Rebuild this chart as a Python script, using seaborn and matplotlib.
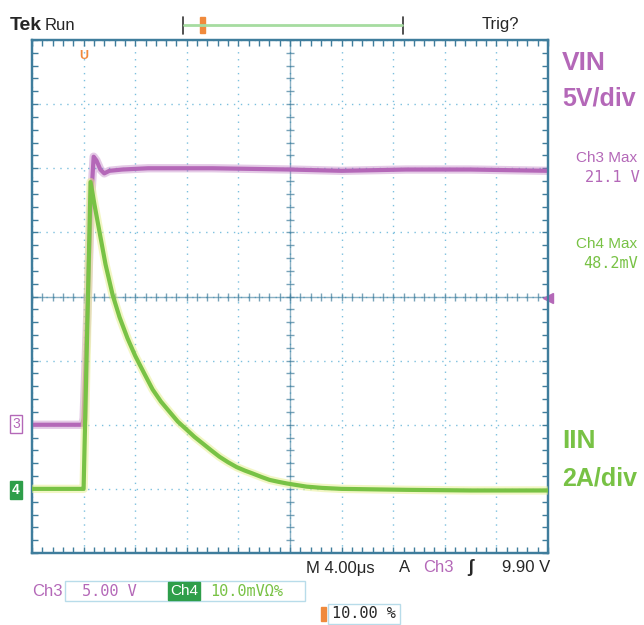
import matplotlib
matplotlib.use("Agg")
import matplotlib.pyplot as plt
import numpy as np
import pandas as pd
import seaborn as sns
from matplotlib.lines import Line2D
from matplotlib.patches import Rectangle

# trace readings (time in us, trigger at 0)
t_vin = [-4.0, -0.1, 0.0, 0.3, 0.55, 0.78, 1.0, 1.3, 1.6, 2.0, 3.0, 5.0, 10.0, 16.0, 20.0, 25.0, 30.0, 36.0]
vin = [0.0, 0.0, 0.5, 9.0, 17.0, 20.9, 20.6, 19.9, 19.6, 19.8, 19.9, 20.0, 20.0, 19.9, 19.8, 19.9, 19.9, 19.8]

t_iin = [-4.0, -0.1, 0.0, 0.54, 0.85, 1.24, 1.7, 2.25, 2.79, 3.4, 4.0, 4.7, 5.35, 6.0, 6.67,
         7.3, 7.98, 8.6, 9.22, 9.9, 10.54, 11.2, 11.86, 12.5, 13.1, 13.8, 14.42, 15.1,
         15.74, 16.5, 17.29, 18.5, 20.0, 25.0, 30.0, 36.0]
iin = [0.0, 0.0, 0.0, 9.57, 8.85, 8.0, 7.0, 6.05, 5.35, 4.7, 4.15, 3.6, 3.1, 2.72, 2.4,
       2.1, 1.85, 1.62, 1.42, 1.2, 1.0, 0.83, 0.68, 0.57, 0.48, 0.37, 0.28, 0.22,
       0.17, 0.12, 0.07, 0.03, 0.0, -0.03, -0.05, -0.05]

TRIG_LEVEL = 9.90
PURPLE = "#b468b8"
GREEN = "#78c245"
GRID = "#7cc0de"
FRAME = "#3f7d9c"
ORANGE = "#f08a3c"

W, H = 644, 625


def fx(x):
    return x / W


def fy(y):
    return 1 - y / H


sns.set_style("white")
plt.rcParams["font.family"] = ["Liberation Sans", "DejaVu Sans"]

fig = plt.figure(figsize=(W / 100, H / 100), dpi=100)
ax = fig.add_axes([fx(32), fy(553), 516 / W, 513 / H])
ax2 = ax.twinx()

# graticule
ax.set_xlim(-4, 36)
ax.set_ylim(-10, 30)
ax2.set_ylim(-2, 14)
for gx in np.arange(-4, 37, 4):
    ax.axvline(gx, color=GRID, lw=1.0, ls=(0, (1, 4)), zorder=0)
for gy in np.arange(-10, 31, 5):
    ax.axhline(gy, color=GRID, lw=1.0, ls=(0, (1, 4)), zorder=0)
ax.axvline(16, color=FRAME, lw=1.0, alpha=0.6, zorder=0)
ax.axhline(10, color=FRAME, lw=1.0, alpha=0.6, zorder=0)
mx = np.arange(-4, 36.1, 0.8)
my = np.arange(-10, 30.1, 1.0)
ax.plot(mx, np.full_like(mx, 10), ls="none", marker="|", ms=6, color=FRAME, alpha=0.7, zorder=0)
ax.plot(np.full_like(my, 16), my, ls="none", marker="_", ms=6, color=FRAME, alpha=0.7, zorder=0)

ax.set_xticks([])
ax.set_yticks([])
ax2.set_yticks([])
ax.set_xticks(mx, minor=True)
ax.set_yticks(my, minor=True)
ax.tick_params(which="minor", direction="in", length=4, width=1, color=FRAME,
               top=True, bottom=True, left=True, right=True,
               labelbottom=False, labelleft=False)
for a in (ax, ax2):
    for s in a.spines.values():
        s.set_color(FRAME)
        s.set_linewidth(1.6)

# traces
df_v = pd.DataFrame({"t": t_vin, "v": vin})
df_i = pd.DataFrame({"t": t_iin, "i": iin})
sns.lineplot(data=df_v, x="t", y="v", ax=ax, color=PURPLE, lw=6, alpha=0.35, zorder=3)
sns.lineplot(data=df_v, x="t", y="v", ax=ax, color=PURPLE, lw=3, zorder=4)
sns.lineplot(data=df_i, x="t", y="i", ax=ax2, color="#e6ef8a", lw=6, alpha=0.5, zorder=3)
sns.lineplot(data=df_i, x="t", y="i", ax=ax2, color=GREEN, lw=3, zorder=4)
ax.set_xlabel("")
ax.set_ylabel("")
ax2.set_ylabel("")
ax.plot([36], [TRIG_LEVEL], marker="<", ms=7, color=PURPLE, clip_on=False, zorder=5)

# header
fig.text(fx(10), fy(25), "Tek", fontsize=14, fontweight="bold", va="center")
fig.text(fx(45), fy(25), "Run", fontsize=12, va="center")
fig.text(fx(482), fy(25), "Trig?", fontsize=12, va="center")
fig.add_artist(Line2D([fx(183), fx(183)], [fy(17), fy(34)], color="#333333", lw=1.2))
fig.add_artist(Line2D([fx(403), fx(403)], [fy(17), fy(34)], color="#333333", lw=1.2))
fig.add_artist(Line2D([fx(184), fx(402)], [fy(25), fy(25)], color="#a6dca0", lw=2))
fig.add_artist(Rectangle((fx(200), fy(33)), 5 / W, 16 / H, color=ORANGE))
fig.text(fx(84), fy(56), "U", fontsize=9, fontweight="bold", color=ORANGE, ha="center", va="center")

# right side labels
fig.text(fx(562), fy(63), "VIN", fontsize=19, fontweight="bold", color=PURPLE, va="center")
fig.text(fx(562), fy(99), "5V/div", fontsize=18, fontweight="bold", color=PURPLE, va="center")
fig.text(fx(576), fy(158), "Ch3 Max", fontsize=11, color=PURPLE, va="center")
fig.text(fx(585), fy(177), "21.1 V", fontsize=11, color=PURPLE, va="center", family="DejaVu Sans Mono")
fig.text(fx(576), fy(244), "Ch4 Max", fontsize=11, color=GREEN, va="center")
fig.text(fx(583), fy(263), "48.2mV", fontsize=11, color=GREEN, va="center", family="DejaVu Sans Mono")
fig.text(fx(562), fy(441), "IIN", fontsize=19, fontweight="bold", color=GREEN, va="center")
fig.text(fx(562), fy(478), "2A/div", fontsize=18, fontweight="bold", color=GREEN, va="center")

# channel ground markers
fig.text(fx(16), fy(424), "3", fontsize=10, color=PURPLE, ha="center", va="center",
         bbox=dict(boxstyle="square,pad=0.15", fc="white", ec=PURPLE, lw=1))
fig.text(fx(16), fy(490), "4", fontsize=10, color="white", fontweight="bold", ha="center", va="center",
         bbox=dict(boxstyle="square,pad=0.15", fc="#2e9e4a", ec="#2e9e4a", lw=1))

# footer
fig.text(fx(306), fy(568), "M 4.00\u03bcs", fontsize=12, va="center")
fig.text(fx(399), fy(568), "A", fontsize=12, va="center")
fig.text(fx(423), fy(568), "Ch3", fontsize=12, color=PURPLE, va="center")
fig.text(fx(467), fy(568), "\u0283", fontsize=13, fontweight="bold", va="center")
fig.text(fx(550), fy(568), "9.90 V", fontsize=12, ha="right", va="center")

fig.text(fx(32), fy(591), "Ch3", fontsize=12, color=PURPLE, va="center")
fig.add_artist(Rectangle((fx(65), fy(601)), 240 / W, 20 / H, fill=False, ec="#b8dcea", lw=1))
fig.text(fx(82), fy(591), "5.00 V", fontsize=11, color=PURPLE, va="center", family="DejaVu Sans Mono")
fig.text(fx(170), fy(591), "Ch4", fontsize=11, color="white", va="center",
         bbox=dict(boxstyle="square,pad=0.15", fc="#2e9e4a", ec="#2e9e4a"))
fig.text(fx(210), fy(591), "10.0mV\u03a9%", fontsize=11, color=GREEN, va="center", family="DejaVu Sans Mono")

fig.add_artist(Rectangle((fx(321), fy(621)), 5 / W, 14 / H, color=ORANGE))
fig.add_artist(Rectangle((fx(328), fy(624)), 72 / W, 20 / H, fill=False, ec="#b8dcea", lw=1))
fig.text(fx(332), fy(614), "10.00 %", fontsize=11, va="center", family="DejaVu Sans Mono")

fig.savefig("out.png", dpi=100)
